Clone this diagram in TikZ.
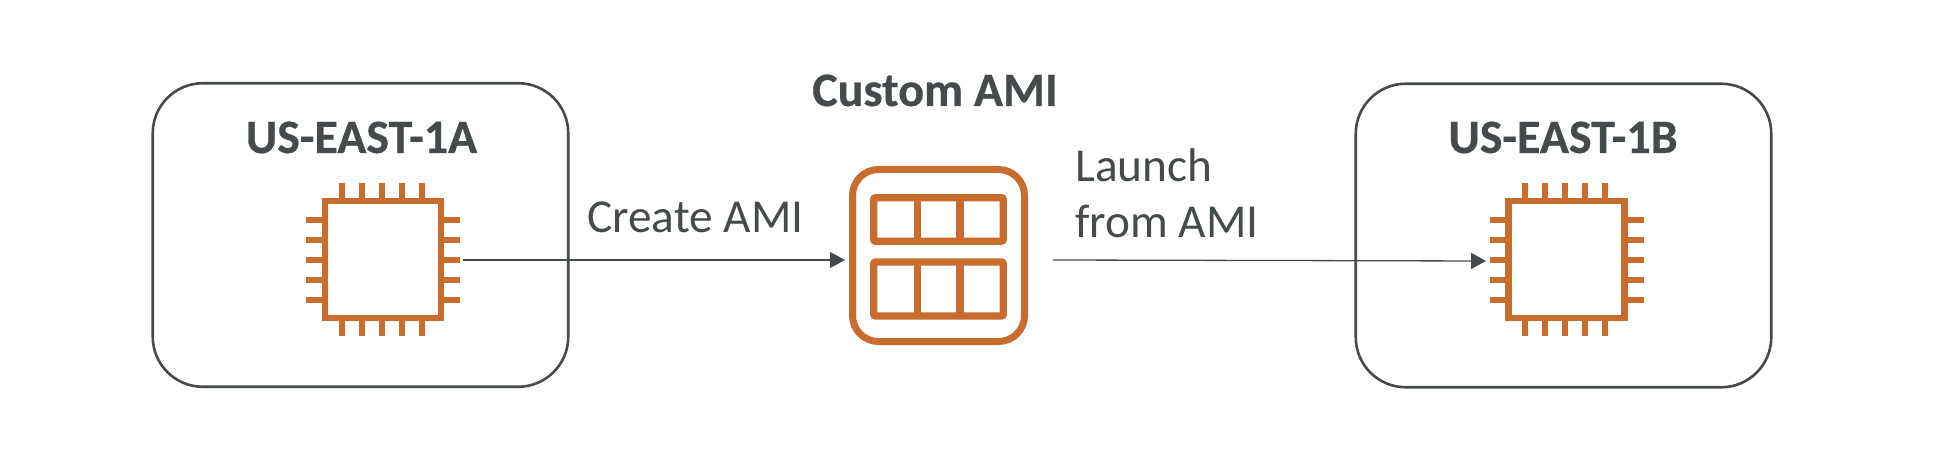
\documentclass[tikz,border=0pt]{standalone}
\usepackage{fontspec}
\setmainfont[BoldFeatures={FakeBold=0.5}]{Carlito}
\usetikzlibrary{arrows.meta,calc}
\definecolor{ink}{HTML}{454B4C}
\definecolor{awsorange}{HTML}{C96D2E}
\tikzset{
  x=1pt,y=-1pt,
  zonebox/.style={draw=ink,line width=2.6pt,rounded corners=50pt,minimum width=415.5pt,minimum height=303.5pt,outer sep=0pt,inner sep=0pt},
  chipbody/.style={draw=awsorange,line width=6.2pt,minimum width=116pt,minimum height=116.5pt,outer sep=0pt,inner sep=0pt},
  pin/.style={draw=awsorange,line width=6.2pt},
  amiframe/.style={draw=awsorange,line width=7pt,rounded corners=26pt,minimum width=172pt,minimum height=172pt,outer sep=0pt,inner sep=0pt},
  amigrid/.style={draw=awsorange,line width=7.4pt,rounded corners=2pt,minimum width=129.5pt,outer sep=0pt,inner sep=0pt},
  boldlabel/.style={text=ink,font=\fontsize{48pt}{54pt}\selectfont\bfseries,inner sep=0pt,anchor=base},
  plainlabel/.style={text=ink,font=\fontsize{47.3pt}{56pt}\selectfont,inner sep=0pt,anchor=base west,align=left},
  flow/.style={draw=ink,line width=1.3pt,-{Triangle[length=15pt,width=16pt]}},
}
\newcommand{\chipicon}[4]{% name, body cx, body cy, pin cx
  \node[chipbody] (#1) at (#2,#3) {};
  \foreach \d in {-40,-20,0,20,40}{
    \draw[pin] (#4+\d,#3-76.5) -- (#4+\d,#3-58);
    \draw[pin] (#4+\d,#3+58) -- (#4+\d,#3+76.5);
    \draw[pin] (#2-77,#3+\d+.5) -- (#2-58,#3+\d+.5);
    \draw[pin] (#2+58,#3+\d+.5) -- (#2+77,#3+\d+.5);
  }
}
\begin{document}
\begin{tikzpicture}
\useasboundingbox (0,0) rectangle (1934,462);
\fill[white] (0,0) rectangle (1934,462);
\node[zonebox] (zoneA) at (360.5,235) {};
\node[zonebox] (zoneB) at (1563.5,235.5) {};
\node[boldlabel] (titleA) at (361.5,153) {US-EAST-1A};
\node[boldlabel] (titleB) at (1563,153) {US-EAST-1B};
\node[boldlabel] (titleAMI) at (935,106) {Custom AMI};
\chipicon{chipA}{383}{259.5}{382}
\chipicon{chipB}{1566.5}{259.5}{1565}
\node[amiframe] (ami) at (938.5,255.5) {};
\node[amigrid,minimum height=43.5pt] (gridtop) at (938.5,219.5) {};
\node[amigrid,minimum height=54pt] (gridbottom) at (938.5,289) {};
\draw[pin,line width=7.4pt] (917.3,198) -- (917.3,241);
\draw[pin,line width=7.4pt] (960,198) -- (960,241);
\draw[pin,line width=7.4pt] (917.3,262) -- (917.3,316);
\draw[pin,line width=7.4pt] (960,262) -- (960,316);
\node[plainlabel] (create) at (587,233) {Create AMI};
\node[plainlabel] (launch) at (1075,182) {Launch};
\node[plainlabel] (fromami) at (1075,238) {from AMI};
\coordinate (startA) at (463,260);
\coordinate (endA) at (845,260);
\coordinate (startB) at (1053,260);
\coordinate (endB) at (1486,261);
\draw[flow] (startA) -- (endA);
\draw[flow] (startB) -- (endB);
\end{tikzpicture}
\end{document}
